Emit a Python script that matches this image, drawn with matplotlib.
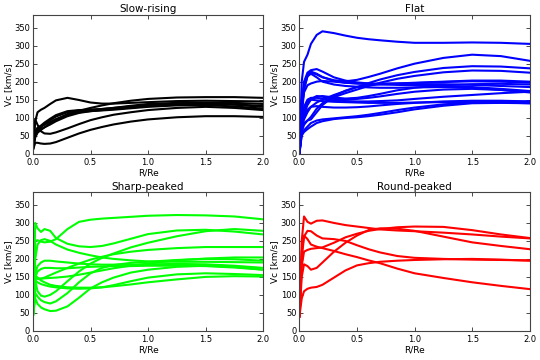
import numpy as np
import matplotlib
matplotlib.use('Agg')
import matplotlib.pyplot as plt

# radius grid (R/Re) shared by every curve
R = [0, 0.02, 0.04, 0.07, 0.1, 0.15, 0.2, 0.3, 0.4, 0.5, 0.6, 0.7, 0.85, 1.0, 1.25, 1.5, 1.75, 2.0]

# Slow-rising
slow = [
    [10, 90, 115, 122, 127, 138, 148, 155, 149, 142, 139, 139, 141, 143, 146, 147, 146, 145],
    [10, 45, 58, 66, 73, 84, 94, 110, 119, 127, 134, 140, 147, 152, 156, 157, 157, 155],
    [15, 55, 65, 73, 82, 93, 103, 115, 120, 122, 124, 127, 133, 138, 141, 142, 141, 138],
    [15, 60, 70, 78, 86, 97, 107, 118, 121, 122, 124, 127, 131, 135, 139, 140, 137, 132],
    [20, 62, 72, 77, 80, 88, 96, 108, 115, 118, 120, 122, 126, 130, 134, 135, 131, 125],
    [20, 95, 80, 62, 56, 55, 59, 70, 82, 93, 101, 108, 115, 121, 127, 130, 127, 121],
    [10, 30, 30, 28, 27, 28, 32, 44, 56, 66, 74, 81, 89, 95, 101, 104, 104, 102],
    [10, 50, 60, 68, 73, 81, 90, 104, 113, 118, 121, 124, 128, 132, 136, 138, 136, 130],
]

# Flat
flat = [
    [0, 200, 255, 275, 305, 330, 340, 335, 328, 322, 318, 315, 311, 308, 308, 309, 308, 305],
    [0, 120, 180, 215, 225, 220, 212, 204, 201, 205, 213, 222, 237, 250, 266, 275, 271, 258],
    [0, 70, 95, 115, 130, 142, 150, 163, 174, 185, 196, 206, 218, 227, 238, 243, 242, 237],
    [0, 60, 80, 92, 102, 125, 140, 157, 168, 178, 188, 197, 208, 216, 226, 231, 230, 225],
    [0, 140, 200, 225, 232, 235, 228, 212, 203, 198, 195, 193, 191, 190, 188, 185, 180, 174],
    [0, 130, 190, 220, 228, 222, 213, 202, 197, 195, 194, 194, 195, 196, 199, 201, 200, 197],
    [0, 120, 180, 215, 222, 212, 200, 192, 188, 186, 184, 183, 183, 184, 185, 183, 177, 170],
    [0, 110, 170, 190, 195, 200, 202, 200, 197, 195, 194, 194, 195, 197, 200, 203, 203, 200],
    [0, 80, 110, 135, 150, 158, 160, 156, 153, 155, 160, 166, 176, 183, 190, 193, 194, 192],
    [0, 90, 120, 140, 152, 160, 158, 152, 150, 152, 155, 159, 166, 172, 178, 180, 177, 172],
    [0, 100, 130, 150, 155, 155, 152, 148, 146, 145, 145, 146, 148, 152, 158, 163, 168, 172],
    [0, 90, 125, 145, 150, 148, 146, 144, 143, 142, 141, 141, 141, 142, 143, 143, 142, 140],
    [0, 80, 105, 122, 130, 132, 130, 128, 128, 129, 131, 134, 138, 141, 145, 147, 147, 145],
    [0, 55, 65, 75, 85, 92, 95, 98, 101, 104, 108, 113, 121, 128, 137, 142, 144, 145],
    [0, 50, 60, 68, 75, 85, 90, 96, 99, 101, 104, 108, 115, 123, 133, 140, 141, 140],
    [0, 70, 85, 92, 95, 115, 135, 160, 175, 185, 190, 192, 193, 193, 193, 191, 188, 185],
]

# Sharp-peaked
sharp = [
    [40, 250, 252, 248, 246, 248, 255, 283, 303, 309, 312, 314, 317, 320, 322, 321, 318, 310],
    [40, 300, 285, 275, 283, 278, 258, 242, 235, 233, 236, 243, 256, 269, 279, 281, 276, 268],
    [40, 140, 110, 98, 95, 100, 110, 138, 165, 187, 203, 215, 232, 245, 263, 277, 283, 278],
    [40, 150, 145, 145, 148, 155, 162, 175, 187, 198, 206, 213, 220, 225, 230, 233, 233, 233],
    [40, 200, 240, 252, 255, 250, 240, 226, 217, 210, 204, 200, 196, 193, 192, 192, 191, 190],
    [40, 160, 180, 190, 195, 195, 193, 190, 187, 185, 184, 184, 184, 185, 186, 185, 181, 175],
    [40, 150, 165, 172, 175, 175, 174, 174, 176, 178, 179, 180, 180, 181, 181, 180, 176, 170],
    [40, 145, 145, 145, 146, 147, 148, 151, 156, 162, 168, 174, 181, 187, 196, 201, 204, 204],
    [40, 155, 148, 140, 135, 128, 125, 121, 120, 120, 121, 124, 129, 135, 143, 150, 152, 151],
    [40, 140, 135, 130, 127, 123, 121, 118, 117, 118, 121, 127, 138, 148, 157, 160, 158, 155],
    [40, 105, 95, 85, 80, 76, 82, 105, 135, 160, 175, 183, 189, 192, 197, 200, 199, 195],
    [40, 90, 75, 65, 60, 55, 56, 68, 92, 118, 135, 148, 162, 170, 178, 181, 178, 170],
]

# Round-peaked
round_ = [
    [40, 250, 318, 303, 298, 306, 307, 300, 294, 290, 286, 282, 279, 277, 273, 268, 262, 257],
    [40, 200, 262, 278, 277, 265, 257, 255, 250, 238, 227, 218, 208, 203, 200, 198, 197, 196],
    [40, 150, 185, 180, 170, 175, 190, 220, 245, 265, 280, 285, 284, 278, 262, 246, 236, 227],
    [40, 180, 220, 225, 228, 230, 232, 245, 260, 270, 278, 283, 288, 290, 289, 280, 268, 258],
    [40, 220, 265, 255, 240, 234, 230, 222, 213, 205, 196, 188, 173, 160, 147, 135, 125, 116],
    [40, 90, 110, 117, 120, 122, 128, 148, 168, 182, 188, 192, 195, 197, 199, 200, 198, 195],
]

titles = ['Slow-rising', 'Flat', 'Sharp-peaked', 'Round-peaked']
groups = [slow, flat, sharp, round_]
colors = ['black', 'blue', '#00ff00', 'red']

fig, axes = plt.subplots(2, 2, figsize=(5.4, 3.6), dpi=100)
fig.subplots_adjust(left=0.061, right=0.981, top=0.958, bottom=0.081, wspace=0.157, hspace=0.28)

for ax, title, curves, c in zip(axes.flat, titles, groups, colors):
    for v in curves:
        ax.plot(R, v, color=c, lw=1.5)
    ax.set_xlim(0, 2.0)
    ax.set_ylim(0, 385)
    ax.set_xticks(np.arange(0, 2.01, 0.5))
    ax.set_yticks(np.arange(0, 351, 50))
    ax.set_title(title, fontsize=7.5, pad=2)
    ax.set_xlabel('R/Re', fontsize=6.5, labelpad=1)
    ax.set_ylabel('Vc [km/s]', fontsize=6.5, labelpad=1)
    ax.tick_params(direction='in', top=True, right=True, labelsize=6, length=3, width=0.5)
    ax.tick_params(axis='x', pad=3)
    ax.tick_params(axis='y', pad=2)
    for lab in ax.get_yticklabels():
        lab.set_verticalalignment('center_baseline')
    for s in ax.spines.values():
        s.set_linewidth(0.8)
        s.set_color('#444444')

fig.savefig('out.png', dpi=100)
